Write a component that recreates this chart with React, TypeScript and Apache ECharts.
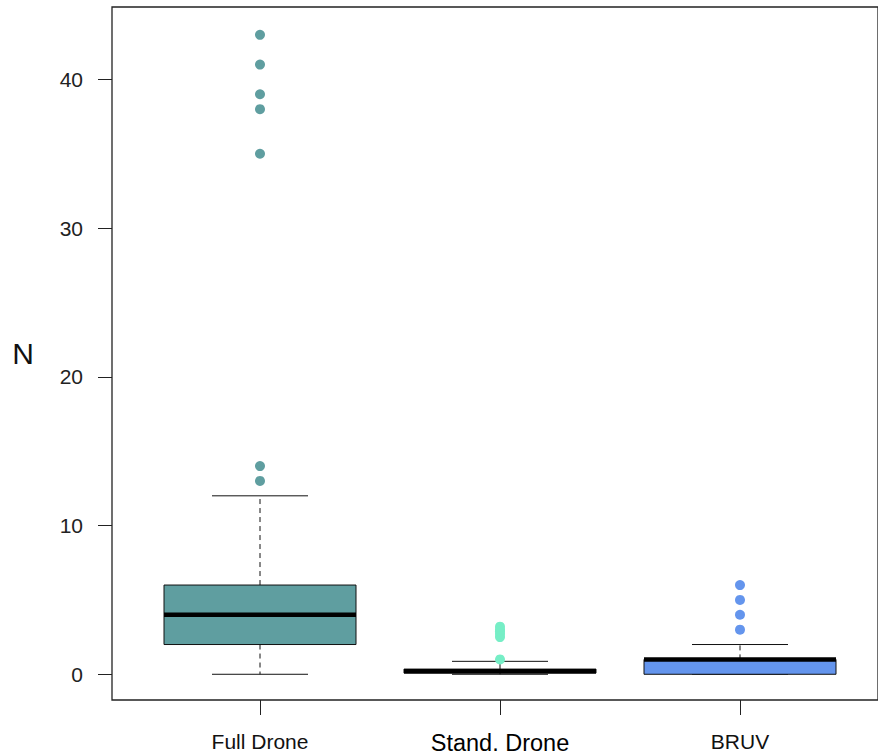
import React, { useEffect, useRef } from "react";
import * as echarts from "echarts";

const categories = ["Full Drone", "Stand. Drone", "BRUV"];
// [lowerWhisker, Q1, median, Q3, upperWhisker]
const boxStats = [
  [0, 2, 4, 6, 12],
  [0, 0.08, 0.2, 0.35, 0.87],
  [0, 0, 1, 1, 2],
];
const outliersFull = [13, 14, 35, 38, 39, 41, 43];
const outliersStand = [1.0, 2.5, 2.7, 2.9, 3.0, 3.2];
const outliersBruv = [3, 4, 5, 6];
const fillColors = ["#5F9EA0", "#76EEC6", "#6495ED"];
const yTicks = [0, 10, 20, 30, 40];
const yMin = -1.73;
const yMax = 44.87;

export default function App() {
  const ref = useRef<HTMLDivElement>(null);
  useEffect(() => {
    if (!ref.current) return;
    const chart = echarts.init(ref.current, null, { renderer: "svg" });
    const font = "Liberation Sans, Arial, sans-serif";
    const option: any = {
      animation: false,
      backgroundColor: "#ffffff",
      grid: [
        { left: 112, top: 7, width: 776, height: 693, show: true, borderColor: "#222", borderWidth: 1.3, backgroundColor: "transparent" },
        { left: 140, top: 7, width: 720, height: 693 },
      ],
      xAxis: [
        { gridIndex: 0, type: "value", min: 0, max: 1, show: false },
        {
          gridIndex: 1,
          type: "category",
          data: categories,
          boundaryGap: true,
          axisLine: { show: false, onZero: false },
          axisTick: { show: true, alignWithLabel: true, interval: 0, length: 15, lineStyle: { color: "#222", width: 1 } },
          axisLabel: {
            interval: 0,
            margin: 31,
            formatter: (v: string) => (v === "Stand. Drone" ? `{b|${v}}` : `{a|${v}}`),
            rich: {
              a: { fontFamily: "Liberation Sans Narrow, Arial Narrow, Liberation Sans, sans-serif", fontSize: 21, color: "#111" },
              b: { fontFamily: "Liberation Sans Narrow, Arial Narrow, Liberation Sans, sans-serif", fontSize: 23.5, color: "#000" },
            },
          },
          splitLine: { show: false },
        },
      ],
      yAxis: [
        {
          gridIndex: 0,
          type: "value",
          min: yMin,
          max: yMax,
          axisLine: { show: false },
          axisTick: { show: true, customValues: yTicks, length: 14, lineStyle: { color: "#222", width: 1 } },
          axisLabel: { customValues: yTicks, margin: 29, fontSize: 21, fontFamily: font, color: "#222" },
          splitLine: { show: false },
          name: "N",
          nameLocation: "middle",
          nameRotate: 0,
          nameGap: 78,
          nameTextStyle: { fontSize: 30, fontFamily: font, color: "#111" },
        },
        { gridIndex: 1, type: "value", min: yMin, max: yMax, show: false, splitLine: { show: false } },
      ],
      series: [
        {
          type: "custom",
          xAxisIndex: 1,
          yAxisIndex: 1,
          data: boxStats.map((s, i) => [i, ...s]),
          encode: { x: 0, y: [1, 2, 3, 4, 5] },
          renderItem: (params: any, api: any) => {
            const i = api.value(0);
            const lo = api.coord([i, api.value(1)]);
            const q1 = api.coord([i, api.value(2)]);
            const med = api.coord([i, api.value(3)]);
            const q3 = api.coord([i, api.value(4)]);
            const hi = api.coord([i, api.value(5)]);
            const band = api.size([1, 0])[0];
            const bw = band * 0.8;
            const cw = band * 0.4;
            const x = lo[0];
            const stroke = { stroke: "#111", lineWidth: 1 };
            return {
              type: "group",
              children: [
                { type: "line", shape: { x1: x, y1: q3[1], x2: x, y2: hi[1] }, style: { ...stroke, lineDash: [5, 4] } },
                { type: "line", shape: { x1: x, y1: q1[1], x2: x, y2: lo[1] }, style: { ...stroke, lineDash: [5, 4] } },
                { type: "line", shape: { x1: x - cw / 2, y1: hi[1], x2: x + cw / 2, y2: hi[1] }, style: stroke },
                { type: "line", shape: { x1: x - cw / 2, y1: lo[1], x2: x + cw / 2, y2: lo[1] }, style: stroke },
                {
                  type: "rect",
                  shape: { x: x - bw / 2, y: q3[1], width: bw, height: q1[1] - q3[1] },
                  style: { fill: fillColors[i], stroke: "#111", lineWidth: 1 },
                },
                { type: "line", shape: { x1: x - bw / 2, y1: med[1], x2: x + bw / 2, y2: med[1] }, style: { stroke: "#000", lineWidth: 4.5 } },
              ],
            };
          },
          z: 2,
        },
        {
          type: "scatter",
          xAxisIndex: 1,
          yAxisIndex: 1,
          symbol: "circle",
          symbolSize: 10,
          itemStyle: { color: fillColors[0], opacity: 1 },
          data: outliersFull.map((v) => [categories[0], v]),
          z: 3,
        },
        {
          type: "scatter",
          xAxisIndex: 1,
          yAxisIndex: 1,
          symbol: "circle",
          symbolSize: 10,
          itemStyle: { color: fillColors[1], opacity: 1 },
          data: outliersStand.map((v) => [categories[1], v]),
          z: 3,
        },
        {
          type: "scatter",
          xAxisIndex: 1,
          yAxisIndex: 1,
          symbol: "circle",
          symbolSize: 10,
          itemStyle: { color: fillColors[2], opacity: 1 },
          data: outliersBruv.map((v) => [categories[2], v]),
          z: 3,
        },
      ],
    };
    chart.setOption(option);
    return () => chart.dispose();
  }, []);
  return <div ref={ref} style={{ position: "fixed", left: 0, top: 0, width: 878, height: 755, background: "#fff" }} />;
}
